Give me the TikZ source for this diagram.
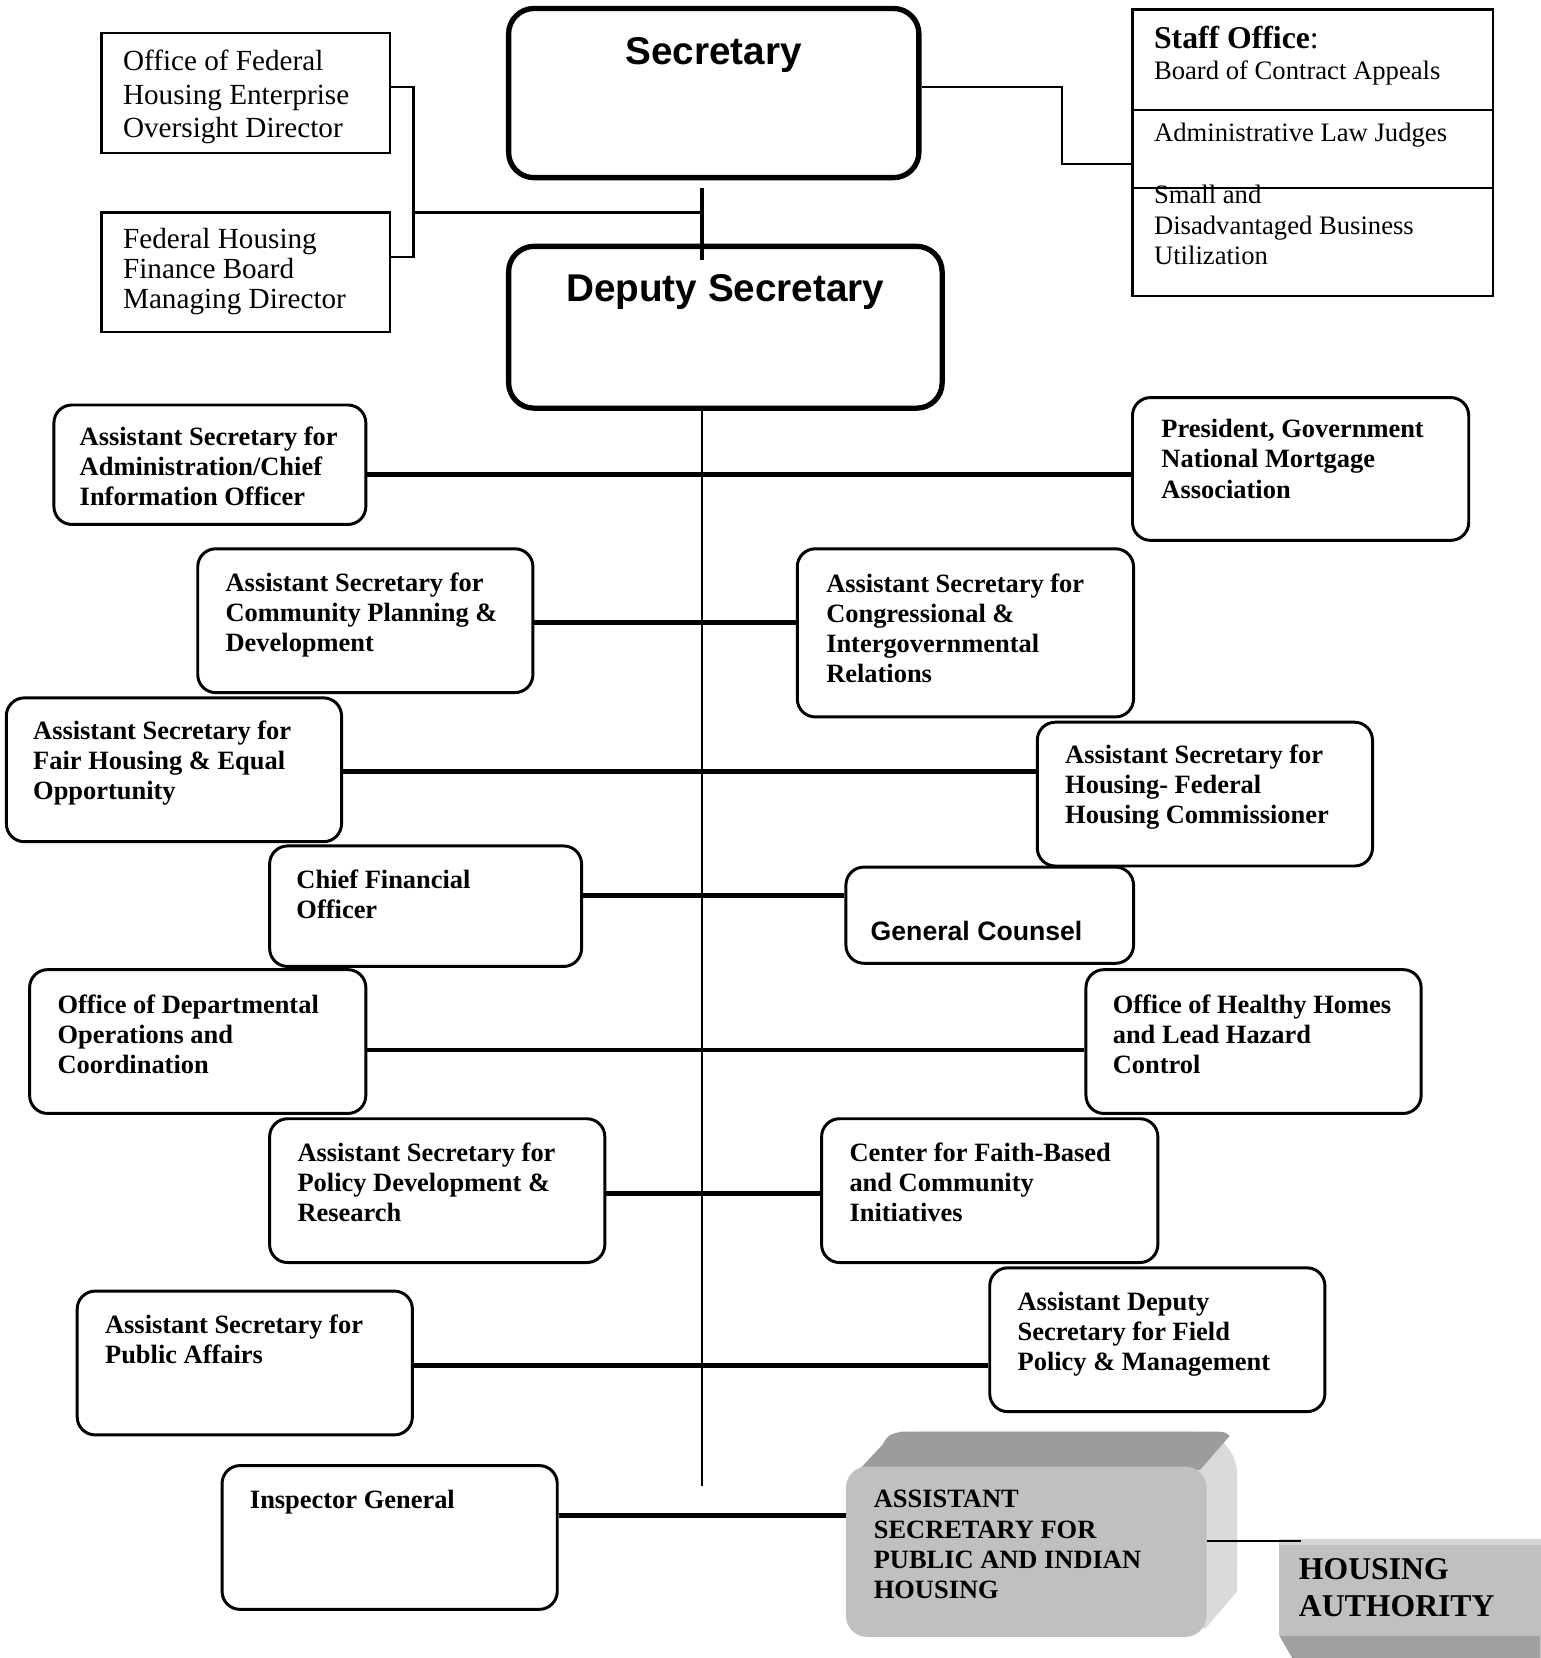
\documentclass[tikz,border=0pt]{standalone}
\usepackage{fontspec}
\setmainfont{Liberation Serif}
\newfontfamily\arialf{Liberation Sans}
\usetikzlibrary{fit}
\definecolor{facegray}{HTML}{C0C0C0}
\definecolor{topgray}{HTML}{9C9C9C}
\definecolor{sidegray}{HTML}{DADADA}
\definecolor{stripgray}{HTML}{D4D4D4}
\definecolor{darkgray2}{HTML}{A0A0A0}
\tikzset{
  bigbox/.style={draw, line width=2.5pt, rounded corners=12pt, inner sep=0pt},
  rbox/.style={draw, line width=1.4pt, rounded corners=8.5pt, inner sep=0pt},
  sbox/.style={draw, line width=1pt, inner sep=0pt},
  conn/.style={line width=2.3pt},
  thinline/.style={line width=1pt},
  btxt/.style={font=\fontsize{12.5}{14.25}\selectfont\bfseries, align=left, inner sep=0pt, anchor=base west},
  rtxt/.style={font=\fontsize{13.8}{15.75}\selectfont, align=left, inner sep=0pt, anchor=base west},
  stxt/.style={font=\fontsize{12.6}{14.6}\selectfont, align=left, inner sep=0pt, anchor=base west},
  htxt/.style={font=\arialf\fontsize{18.3}{22}\selectfont\bfseries, inner sep=0pt, anchor=base},
}
\begin{document}
\begin{tikzpicture}[x=0.5pt, y=-0.5pt]
\useasboundingbox (0,0) rectangle (1457,1568);

% top boxes
\node[bigbox, fit={(481,8) (869,168)}] (sec) {};
\node[bigbox, fit={(481,233) (891,386)}] (dep) {};
\node[sbox, fit={(96,31) (369,145)}] (ofh) {};
\node[sbox, fit={(96,201) (369,314)}] (fhf) {};
\node[sbox, fit={(1071,9) (1412,280)}] (stf) {};
\coordinate (d1) at (0,104);
\coordinate (d2) at (0,178);
\draw[thinline] (stf.west |- d1) -- (stf.east |- d1);
\draw[thinline] (stf.west |- d2) -- (stf.east |- d2);

% (multi-line texts are anchored at the baseline of their last line)
\node[htxt] (tsec) at (675,61) {Secretary};
\node[htxt] (tdep) at (686,285) {Deputy Secretary};
\node[rtxt] (tofh) at (116,130) {Office of Federal\\Housing Enterprise\\Oversight Director};
\node[rtxt, font=\fontsize{13.8}{14.25}\selectfont] (tfhf) at (116,292) {Federal Housing\\Finance Board\\Managing Director};
\node[stxt, font=\fontsize{15}{17}\selectfont] (tsf1) at (1091,45.7) {\textbf{Staff Office}:};
\node[stxt] (tsf2) at (1091,75.6) {Board of Contract Appeals};
\node[stxt] (tsf3) at (1091,134) {Administrative Law Judges};
\node[stxt] (tsf4) at (1091,250.5) {Small and\\Disadvantaged Business\\Utilization};

% top connectors
\coordinate (sd1) at (664,178);
\coordinate (sd2) at (664,246);
\draw[line width=2pt] (sd1) -- (sd2);
\coordinate (brA) at (391,82);
\coordinate (brB) at (391,243);
\coordinate (brC) at (391,201);
\draw[thinline] (ofh.east |- brA) -- (brA) -- (brB) -- (fhf.east |- brB);
\draw[thinline] (brC) -- (sd1 |- brC);
\coordinate (ss1) at (1004,82);
\coordinate (ss2) at (1004,155);
\draw[thinline] (sec.east |- ss1) -- (ss1) -- (ss2) -- (stf.west |- ss2);

% main vertical
\coordinate (vend) at (664,1405);
\draw[thinline] (dep.south -| vend) -- (vend);

% rounded boxes
\node[rbox, fit={(51,383) (346,496)}] (b1) {};
\node[rbox, fit={(1071,376) (1389,511)}] (b2) {};
\node[rbox, fit={(187,519) (504,655)}] (b3) {};
\node[rbox, fit={(754,519) (1072,678)}] (b4) {};
\node[rbox, fit={(6,660) (323,796)}] (b5) {};
\node[rbox, fit={(981,683) (1298,819)}] (b6) {};
\node[rbox, fit={(255,800) (550,914)}] (b7) {};
\node[rbox, fit={(800,820) (1072,911)}] (b8) {};
\node[rbox, fit={(28,917) (346,1053)}] (b9) {};
\node[rbox, fit={(1027,917) (1344,1053)}] (b10) {};
\node[rbox, fit={(255,1058) (572,1194)}] (b11) {};
\node[rbox, fit={(777,1058) (1095,1194)}] (b12) {};
\node[rbox, fit={(73,1221) (390,1357)}] (b13) {};
\node[rbox, fit={(936,1199) (1253,1335)}] (b14) {};
\node[rbox, fit={(210,1386) (527,1522)}] (b15) {};

\node[btxt] (t1) at (75,478) {Assistant Secretary for\\Administration/Chief\\Information Officer};
\node[btxt] (t2) at (1098,471) {President, Government\\National Mortgage\\Association};
\node[btxt] (t3) at (213,616) {Assistant Secretary for\\Community Planning \&\\Development};
\node[btxt] (t4) at (781,645.5) {Assistant Secretary for\\Congressional \&\\Intergovernmental\\Relations};
\node[btxt] (t5) at (31,756) {Assistant Secretary for\\Fair Housing \& Equal\\Opportunity};
\node[btxt] (t6) at (1007,779) {Assistant Secretary for\\Housing- Federal\\Housing Commissioner};
\node[btxt] (t7) at (280,868.5) {Chief Financial\\Officer};
\node[btxt, font=\arialf\fontsize{12.6}{14.25}\selectfont\bfseries] (t8) at (823,889) {General Counsel};
\node[btxt] (t9) at (54,1015) {Office of Departmental\\Operations and\\Coordination};
\node[btxt] (t10) at (1052,1015) {Office of Healthy Homes\\and Lead Hazard\\Control};
\node[btxt] (t11) at (281,1155) {Assistant Secretary for\\Policy Development \&\\Research};
\node[btxt] (t12) at (803,1155) {Center for Faith-Based\\and Community\\Initiatives};
\node[btxt] (t13) at (99,1289.5) {Assistant Secretary for\\Public Affairs};
\node[btxt] (t14) at (962,1296) {Assistant Deputy\\Secretary for Field\\Policy \& Management};
\node[btxt] (t15) at (236,1427) {Inspector General};

% 3D box for PIH
\fill[sidegray, rounded corners=20pt] (830,1354) rectangle (1170,1516);
\fill[sidegray] (1120,1420) -- (1170,1400) -- (1170,1505) -- (1140,1540) -- (1120,1540) -- cycle;
\fill[topgray] (803,1400) -- (834,1367) .. controls (840,1357) .. (852,1354) -- (1150,1354)
   .. controls (1158,1354) .. (1163,1358) -- (1135,1390) -- cycle;
\node[fill=facegray, rounded corners=10pt, inner sep=0pt, fit={(800,1387) (1141,1548)}] (pih) {};
\node[btxt] (tpih) at (826,1511.5) {ASSISTANT\\SECRETARY FOR\\PUBLIC AND INDIAN\\HOUSING};

% Housing authority
\fill[stripgray] (1210,1455) rectangle (1457,1461);
\node[fill=facegray, inner sep=0pt, fit={(1210,1461) (1457,1547)}] (ha) {};
\fill[darkgray2] (1210,1547) -- (1457,1547) -- (1457,1568) -- (1222,1568) -- cycle;
\node[btxt, font=\fontsize{15}{17.5}\selectfont\bfseries] (tha) at (1228,1529) {HOUSING\\AUTHORITY};

% horizontal connectors
\coordinate (y1) at (0,449);
\coordinate (y2) at (0,589);
\coordinate (y3) at (0,730);
\coordinate (y4) at (0,847);
\coordinate (y5) at (0,993);
\coordinate (y6) at (0,1129);
\coordinate (y7) at (0,1291);
\coordinate (y8) at (0,1433);
\coordinate (y9) at (0,1457);
\coordinate (haend) at (1230,1457);
\draw[conn] (b1.east |- y1) -- (b2.west |- y1);
\draw[conn] (b3.east |- y2) -- (b4.west |- y2);
\draw[conn] (b5.east |- y3) -- (b6.west |- y3);
\draw[conn] (b7.east |- y4) -- (b8.west |- y4);
\draw[conn] (b9.east |- y5) -- (b10.west |- y5);
\draw[conn] (b11.east |- y6) -- (b12.west |- y6);
\draw[conn] (b13.east |- y7) -- (b14.west |- y7);
\draw[conn] (b15.east |- y8) -- (pih.west |- y8);
\draw[thinline] (pih.east |- y9) -- (haend);
\end{tikzpicture}
\end{document}
